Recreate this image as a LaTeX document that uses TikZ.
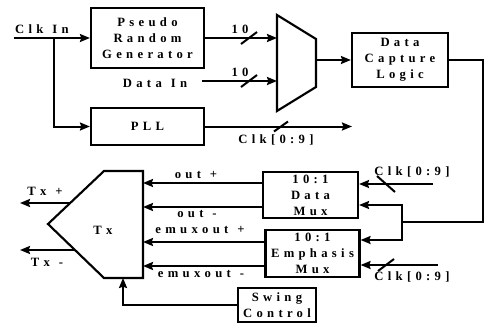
\documentclass[tikz,border=0pt]{standalone}
\usepackage{fontspec}
\setmainfont{Liberation Serif}[LetterSpace=34,WordSpace=1.2]
\usetikzlibrary{arrows.meta}

\begin{document}
\begin{tikzpicture}[x=0.75pt, y=-0.75pt,
  font=\bfseries\fontsize{9.5}{12}\selectfont,
  box/.style 2 args={draw, line width=1.6pt, minimum width=#1, minimum height=#2, align=center, inner sep=0pt},
  wire/.style={line width=1.5pt},
  arr/.style={wire, -{Stealth[length=7.5pt,width=6pt,inset=1pt]}},
  lbl/.style={inner sep=0pt}]
\useasboundingbox (0,0) rectangle (487,325);
\node[box={84.75pt}{45pt}] (prg) at (147.5,38) {Pseudo\\Random\\Generator};
\node[box={84.75pt}{27.75pt}] (pll) at (147.5,126.5) {PLL};
\node[box={72pt}{40.5pt}] (dcl) at (400,60) {Data\\Capture\\Logic};
\node[box={71.25pt}{34.5pt}] (dmux) at (310.5,195) {10:1\\Data\\Mux};
\node[box={70.5pt}{35.25pt}] (emux) at (312.5,253.5) {10:1\\Emphasis\\Mux};
\node[box={58.5pt}{25.5pt}] (swing) at (277,305) {Swing\\Control};
\draw[line width=1.6pt] (277,15) -- (316,39) -- (316,87) -- (277,111) -- cycle;
\draw[line width=1.6pt] (48,224) -- (104,171) -- (143,171) -- (143,278) -- (104,278) -- cycle;
\node[lbl] (tx) at (103,230) {Tx};
\coordinate (muxA) at (277,38);
\coordinate (muxB) at (277,81);
\coordinate (muxO) at (316,60);
\coordinate (txR) at (143,224);
\coordinate (txB) at (123,278);
\coordinate (clkin) at (14,38);
\coordinate (br) at (54,38);
\coordinate (dinS) at (202,81);
\coordinate (clkout) at (352,126.5);
\coordinate (fb) at (483,222);
\coordinate (split) at (402,222);
\coordinate (ck1) at (433,184);
\coordinate (ck2) at (438,265);
\coordinate (txP) at (70,203);
\coordinate (txM) at (75,250);
\coordinate (txPo) at (20,203);
\coordinate (txMo) at (20,250);
\node[lbl] (clklbl) at (42,29) {Clk In};
\node[lbl] (datain) at (155,83) {Data In};
\node[lbl] (w1) at (240,29) {10};
\node[lbl] (w2) at (240,72) {10};
\node[lbl] (ck0) at (276,140) {Clk[0:9]};
\node[lbl] (ck1l) at (412,172) {Clk[0:9]};
\node[lbl] (ck2l) at (412,277) {Clk[0:9]};
\node[lbl] (op) at (196,175) {out +};
\node[lbl] (om) at (197,214) {out -};
\node[lbl] (ep) at (200,230) {emuxout +};
\node[lbl] (em) at (201,274) {emuxout -};
\node[lbl] (txpl) at (45,191) {Tx +};
\node[lbl] (txml) at (47,262) {Tx -};
\draw[arr] (clkin) -- (prg);
\draw[arr] (br) |- (pll);
\draw[arr] (prg.east |- muxA) -- (muxA);
\draw[arr] (dinS) -- (muxB);
\draw[arr] (muxO) -- (dcl);
\draw[arr] (pll) -- (clkout);
\draw[wire] (dcl.east) -| (fb) -- (split);
\draw[arr] (split) |- (dmux.east |- 0,205);
\draw[arr] (split) |- (emux.east |- 0,240);
\draw[arr] (ck1) -- (dmux.east |- ck1);
\draw[arr] (ck2) -- (emux.east |- ck2);
\draw[arr] (dmux.west |- 0,183) -- (txR |- 0,183);
\draw[arr] (dmux.west |- 0,207) -- (txR |- 0,207);
\draw[arr] (emux.west |- 0,242) -- (txR |- 0,242);
\draw[arr] (emux.west |- 0,266) -- (txR |- 0,266);
\draw[arr] (txP) -- (txPo);
\draw[arr] (txM) -- (txMo);
\draw[arr] (swing) -| (txB);
\draw[wire] (249,38) ++(-8,6) -- ++(16,-12);
\draw[wire] (249,81) ++(-8,6) -- ++(16,-12);
\draw[wire] (281,126.5) ++(-7,5) -- ++(14,-10);
\draw[wire] (386,184) ++(-9,-8) -- ++(18,16);
\draw[wire] (386,265) ++(-8,6) -- ++(16,-12);
\end{tikzpicture}
\end{document}
